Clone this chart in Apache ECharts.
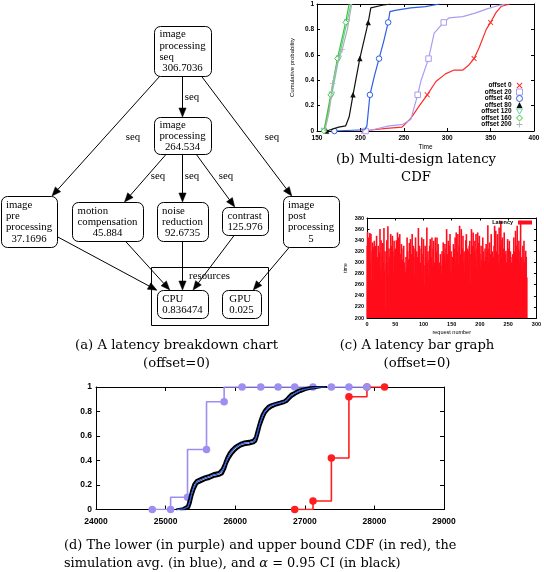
<!DOCTYPE html>
<html><head><meta charset="utf-8">
<script src="https://cdn.jsdelivr.net/npm/echarts@6/dist/echarts.min.js"></script>
<style>html,body{margin:0;padding:0;background:#fff}#c{width:544px;height:572px}</style>
</head><body><div id="c"></div>
<script>
// ---------- (a) latency breakdown diagram ----------
const nodeIds = ['seq','proc','pre','motion','noise','contrast','post','cpu','gpu'];
const nodeWords = [['image','processing','seq'],['image','processing'],['image','pre','processing'],['motion','compensation'],['noise','reduction'],['contrast'],['image','post','processing'],['CPU'],['GPU']];
const nodeLatency = ['306.7036','264.534','37.1696','45.884','92.6735','125.976','5','0.836474','0.025'];
const edgeFrom = ['seq','seq','seq','proc','proc','proc','pre','motion','noise','contrast','post'];
const edgeTo   = ['proc','pre','post','motion','noise','contrast','cpu','cpu','cpu','cpu','gpu'];
const edgeLabel = ['seq','seq','seq','seq','seq','seq','','','','',''];
const clusterLabel = 'resources';
// diagram layout (pixels)
const nodeCX = [182.5,182.5,29,107.5,182.5,245,311,182.5,241.5];
const nodeCY = [51,135.5,221.5,221.5,221.5,221,221.5,304,304];
const nodeW = [57,57,56,71,51,46,56,51,39];
const nodeH = [50,37,51,39,39,28,51,28,28];
const edgeLabelX = [192,133,272,158,192,226];
const edgeLabelY = [97,137,137,176,176,176];
const clusterBox = [151,267,268,325];

// ---------- (b) multi-design latency CDF ----------
const offsetNames = ['offset 0','offset 20','offset 40','offset 80','offset 120','offset 160','offset 200'];
const cdf0 = [[204,0],[215,0.01],[230,0.02],[248,0.03],[258,0.1],[268,0.2],[277,0.285],[287,0.39],[298,0.45],[308,0.48],[318,0.48],[325,0.52],[331,0.57],[337,0.66],[345,0.8],[350,0.855],[356,0.93],[362,0.98],[372,1]];
const cdf20 = [[206,0],[214,0.01],[233,0.04],[248,0.05],[258,0.09],[266,0.285],[270,0.4],[278.5,0.57],[285,0.77],[296,0.855],[302,0.89],[318,0.9],[333,0.93],[345,0.96],[360,0.99],[368,1]];
const cdf40 = [[170,0],[205,0.01],[207.5,0.04],[211,0.285],[216,0.43],[221.5,0.57],[227,0.71],[232,0.855],[234,0.94],[240,0.95],[258,0.97],[275,0.98],[291,1]];
const cdf80 = [[161,0],[175,0.03],[183,0.04],[187,0.11],[191.5,0.285],[199.3,0.57],[209,0.855],[212,0.97],[225,0.99],[235,1]];
const cdf120 = [[158,0],[163,0.15],[167,0.285],[175,0.57],[184.5,0.855],[189,1]];
const cdf160 = [[158,0],[165.8,0.285],[173.5,0.57],[183,0.855],[187,1]];
const cdf200 = [[159,0],[164,0.15],[168,0.375],[174,0.55],[179,0.64],[185,0.8],[190,1]];
const cdfMarked = [[0,6,12,15],[0,5,7,9],[0,3,5,7],[0,4,5,6],[0,2,3,4],[0,1,2,3],[2,4]];
const cdfTicksX = [150,400,50];

// ---------- (c) latency bar graph ----------
const latency = [
330,355,290,345,310,353,300,351,267,320,
336,300,328,339,285,330,262,348,310,295,
330,305,318,360,290,340,273,312,335,300,
362,285,320,215,297,340,300,365,280,325,
310,290,351,330,300,348,320,285,339,310,
325,297,340,300,354,280,345,320,351,295,
315,333,290,305,325,330,300,270,282,310,
290,345,320,295,306,335,285,342,300,315,
351,290,330,310,275,325,345,300,320,267,
310,362,290,330,273,300,325,345,280,315,
342,295,259,330,310,290,363,300,320,279,
305,330,342,280,310,345,295,325,339,256,
300,345,285,320,345,310,333,290,300,285,
315,295,279,320,305,336,290,315,333,300,
325,360,290,315,339,300,330,351,285,320,
276,310,300,333,290,325,345,300,354,229,
320,351,295,330,366,300,315,360,290,325,
348,300,320,282,310,340,351,295,325,321,
300,330,339,262,315,360,300,330,354,290,
320,339,310,351,290,325,354,300,335,348,
315,290,330,305,250,345,320,295,303,325,
310,333,290,320,367,300,325,336,285,315,
351,300,320,279,310,330,366,300,357,320,
290,351,315,300,363,285,330,375,310,340,
345,300,325,354,290,315,321,300,223,342,
310,325,339,295,320,273,300,310,315,290,
345,320,300,357,330,310,366,295,325,339,
300,320,375,310,290,285,330,305,339,300,
290,321,310,273];

// ---------- (d) bound CDFs ----------
const lowerX = [24808,25072,25315,25588,25841,26099,26367,26616,26855,27118,27382,27634,27893];
const lowerY = [0,0,0.1,0.49,0.88,1,1,1,1,1,1,1,1];
const upperX = [26855,27118,27382,27634,27893,28146];
const upperY = [0,0.07,0.42,0.92,1,1];
const simAvg = [[25160,0],[25260,0.005],[25320,0.02],[25350,0.07],[25375,0.13],[25410,0.19],[25445,0.225],[25500,0.24],[25560,0.255],[25620,0.265],[25683,0.28],[25760,0.29],[25810,0.31],[25845,0.35],[25876,0.4],[25910,0.44],[25947,0.47],[25990,0.5],[26019,0.51],[26070,0.53],[26114,0.54],[26200,0.545],[26258,0.555],[26290,0.57],[26306,0.6],[26330,0.65],[26354,0.7],[26390,0.76],[26426,0.8],[26470,0.83],[26521,0.85],[26580,0.86],[26641,0.87],[26700,0.88],[26737,0.89],[26770,0.91],[26808,0.93],[26860,0.95],[26928,0.97],[27000,0.98],[27072,0.99],[27150,0.995],[27216,1],[27300,1]];
const ciUpper = [[25150,0],[25250,0.01],[25310,0.03],[25340,0.09],[25365,0.15],[25400,0.21],[25440,0.24],[25500,0.255],[25560,0.27],[25620,0.28],[25683,0.295],[25760,0.305],[25805,0.33],[25840,0.375],[25870,0.42],[25905,0.46],[25945,0.49],[25990,0.515],[26030,0.53],[26080,0.545],[26130,0.555],[26200,0.56],[26258,0.57],[26285,0.59],[26300,0.625],[26325,0.675],[26350,0.725],[26385,0.78],[26420,0.815],[26470,0.845],[26521,0.86],[26580,0.87],[26641,0.88],[26700,0.89],[26735,0.905],[26765,0.925],[26800,0.945],[26855,0.96],[26920,0.98],[27000,0.99],[27070,0.997],[27150,1],[27300,1]];
const ciLower = [[25200,0],[25290,0.003],[25335,0.012],[25360,0.05],[25385,0.11],[25420,0.17],[25455,0.21],[25510,0.225],[25570,0.24],[25630,0.25],[25690,0.265],[25770,0.275],[25820,0.29],[25855,0.33],[25885,0.38],[25920,0.42],[25955,0.45],[26000,0.48],[26030,0.495],[26080,0.515],[26130,0.525],[26200,0.53],[26265,0.54],[26300,0.555],[26315,0.58],[26340,0.63],[26362,0.68],[26400,0.74],[26435,0.785],[26480,0.815],[26530,0.835],[26590,0.85],[26650,0.86],[26710,0.87],[26745,0.88],[26780,0.9],[26815,0.92],[26870,0.94],[26940,0.96],[27010,0.975],[27080,0.985],[27160,0.993],[27240,1],[27320,1]];

// ---------- captions ----------
const capA = ['(a) A latency breakdown chart','(offset=0)'];
const capB = ['(b) Multi-design latency','CDF'];
const capC = ['(c) A latency bar graph','(offset=0)'];
const capD = ['(d) The lower (in purple) and upper bound CDF (in red), the','simulation avg. (in blue), and {i|α} = 0.95 CI (in black)'];

// ================= build =================
const SERIF = 'Liberation Serif';
const CAPF = 'DejaVu Serif';
const SANS = 'Liberation Sans';

function gAxes(grid, xr, yr, fs, tick, xm, ym, xName, yName, xGap, yGap) {
  const common = (pos, r, showLab, m) => ({
    type:'value', gridIndex:grid, position:pos, min:r[0], max:r[1], interval:r[2],
    axisLine:{show:true, onZero:false, lineStyle:{color:'#000', width:1}},
    axisTick:{show:true, inside:true, length:tick, lineStyle:{color:'#000'}},
    splitLine:{show:false},
    axisLabel:{show:showLab, color:'#000', fontFamily:SANS, fontWeight:'bold', fontSize:fs, margin:m, formatter:v => String(v)}
  });
  const xb = common('bottom', xr, true, xm), xt = common('top', xr, false, 0);
  const yl = common('left', yr, true, ym), yrr = common('right', yr, false, 0);
  if (xName) Object.assign(xb, {name:xName, nameLocation:'middle', nameGap:xGap, nameTextStyle:{fontFamily:SANS, fontSize:fs, color:'#000'}});
  if (yName) Object.assign(yl, {name:yName, nameLocation:'middle', nameGap:yGap, nameRotate:90, nameTextStyle:{fontFamily:SANS, fontSize:fs-0.5, color:'#000'}});
  return {x:[xb, xt], y:[yl, yrr]};
}

const axB = gAxes(1, cdfTicksX, [0,1,0.2], 6.5, 3, 4, 3, 'Time', 'Cumulative probability', 13, 22);
const axC = gAxes(2, [0,300,50], [200,380,20], 5.5, 2.5, 3, 3, 'request number', 'time', 11, 19);
const axD = gAxes(3, [24000,29000,1000], [0,1,0.2], 8.5, 4, 8, 4, null, null);

const xAxis = [{type:'value', gridIndex:0, min:0, max:544, show:false}].concat(axB.x, axC.x, axD.x);
const yAxis = [{type:'value', gridIndex:0, min:0, max:572, inverse:true, show:false}].concat(axB.y, axC.y, axD.y);

const grid = [
  {left:0, top:0, width:544, height:572},
  {left:317, top:4, width:217, height:127},
  {left:367, top:218, width:171.5, height:100},
  {left:96, top:387, width:348, height:122.5}
];

// (a) diagram series
function idx(id){ return nodeIds.indexOf(id); }
const diagram = [
  { type:'custom', name:'cluster', xAxisIndex:0, yAxisIndex:0, silent:true, z:1,
    data:[[clusterBox[0], clusterBox[1], clusterBox[2], clusterBox[3]]],
    renderItem(params, api){
      const p0 = api.coord([api.value(0), api.value(1)]), p1 = api.coord([api.value(2), api.value(3)]);
      return {type:'group', children:[
        {type:'rect', shape:{x:p0[0]+0.5, y:p0[1]+0.5, width:p1[0]-p0[0], height:p1[1]-p0[1]}, style:{fill:'none', stroke:'#000', lineWidth:1}},
        {type:'text', x:(p0[0]+p1[0])/2, y:p0[1]+9, style:{text:clusterLabel, align:'center', verticalAlign:'middle', fontFamily:SERIF, fontSize:10.8, fill:'#000'}}
      ]};
    }
  },
  { type:'custom', name:'edges', xAxisIndex:0, yAxisIndex:0, silent:true, z:2,
    data: edgeFrom.map((f,i)=>[i]),
    renderItem(params, api){
      const i = params.dataIndex, a = idx(edgeFrom[i]), b = idx(edgeTo[i]);
      const p0 = api.coord([nodeCX[a], nodeCY[a]]), p1 = api.coord([nodeCX[b], nodeCY[b]]);
      const dx = p1[0]-p0[0], dy = p1[1]-p0[1];
      const ax = Math.abs(dx)||1e-9, ay = Math.abs(dy)||1e-9;
      const t0 = Math.min(nodeW[a]/2/ax, nodeH[a]/2/ay), t1 = Math.min(nodeW[b]/2/ax, nodeH[b]/2/ay);
      const s = [p0[0]+dx*t0, p0[1]+dy*t0], e = [p1[0]-dx*t1, p1[1]-dy*t1];
      const len = Math.hypot(e[0]-s[0], e[1]-s[1]), ux = (e[0]-s[0])/len, uy = (e[1]-s[1])/len;
      const AL = 9, AW = 3.6, base = [e[0]-ux*AL, e[1]-uy*AL];
      const ch = [
        {type:'line', shape:{x1:s[0], y1:s[1], x2:base[0], y2:base[1]}, style:{stroke:'#000', lineWidth:1}},
        {type:'polygon', shape:{points:[e, [base[0]-uy*AW, base[1]+ux*AW], [base[0]+uy*AW, base[1]-ux*AW]]}, style:{fill:'#000', stroke:'#000', lineWidth:0.5}}
      ];
      if (edgeLabel[i]) {
        const lp = api.coord([edgeLabelX[i], edgeLabelY[i]]);
        ch.push({type:'text', x:lp[0], y:lp[1], style:{text:edgeLabel[i], align:'center', verticalAlign:'middle', fontFamily:SERIF, fontSize:10.8, fill:'#000'}});
      }
      return {type:'group', children:ch};
    }
  },
  { type:'custom', name:'nodes', xAxisIndex:0, yAxisIndex:0, silent:true, z:3,
    data: nodeIds.map((id,i)=>[nodeCX[i], nodeCY[i]]),
    renderItem(params, api){
      const i = params.dataIndex, c = api.coord([api.value(0), api.value(1)]);
      const w = nodeW[i], h = nodeH[i];
      const txt = nodeWords[i].map(t=>'{l|'+t+'}').join('\n') + '\n{c|' + nodeLatency[i] + '}';
      const f = {fontFamily:SERIF, fontSize:10.8, lineHeight:11.3, fill:'#000'};
      return {type:'group', children:[
        {type:'rect', shape:{x:c[0]-w/2+0.5, y:c[1]-h/2+0.5, width:w, height:h, r:6}, style:{fill:'#fff', stroke:'#000', lineWidth:1}},
        {type:'text', x:c[0], y:c[1]+0.5, style:Object.assign({text:txt, align:'center', verticalAlign:'middle',
          rich:{l:Object.assign({align:'left'}, f), c:Object.assign({align:'center'}, f)}}, f)}
      ]};
    }
  }
];

// (b) CDF series
const X_PATH = 'path://M0,1.2L1.2,0L5,3.8L8.8,0L10,1.2L6.2,5L10,8.8L8.8,10L5,6.2L1.2,10L0,8.8L3.8,5Z';
const PLUS_PATH = 'path://M4.3,0H5.7V4.3H10V5.7H5.7V10H4.3V5.7H0V4.3H4.3Z';
const TRI_DOWN = 'path://M0,0L10,0L5,8.7Z';
const offColors = ['#ff2a2a','#a99cf2','#2f5de6','#111111','#66ccaa','#36c836','#b0b0b0'];
const offSymbols = [X_PATH, 'rect', 'circle', 'triangle', TRI_DOWN, 'diamond', PLUS_PATH];
const offHollow = [false, true, true, false, true, true, false];
const cdfData = [cdf0, cdf20, cdf40, cdf80, cdf120, cdf160, cdf200];
const markerStyle = i => offHollow[i] ? {color:'#fff', borderColor:offColors[i], borderWidth:1} : {color:offColors[i], borderWidth:0};
const cdfSeries = cdfData.map((d, i) => ({
  type:'line', name:offsetNames[i], xAxisIndex:1, yAxisIndex:1, data:d, z:5+i,
  showAllSymbol:true, symbolSize:[5.5,5.5],
  symbol:(v, p) => cdfMarked[i].indexOf(p.dataIndex) >= 0 ? offSymbols[i] : 'none',
  lineStyle:{color:offColors[i], width:1.2}, itemStyle:markerStyle(i)
}));

// (c) bar series
const barSeries = {type:'bar', name:'Latency', xAxisIndex:3, yAxisIndex:3, barWidth:1.6,
  data: latency.map((v,i)=>[i, v]), itemStyle:{color:'#ff0d1c'}, large:false};

// (d) series
const dSeries = [
  {type:'line', name:'upper bound', xAxisIndex:5, yAxisIndex:5, step:'end', data:upperX.map((x,i)=>[x, upperY[i]]),
   symbol:'circle', symbolSize:7.5, showAllSymbol:true, lineStyle:{color:'#ff1e1e', width:1.6}, itemStyle:{color:'#ff1e1e'}, z:5},
  {type:'line', name:'lower bound', xAxisIndex:5, yAxisIndex:5, step:'start', data:lowerX.map((x,i)=>[x, lowerY[i]]),
   symbol:'circle', symbolSize:7.5, showAllSymbol:true, lineStyle:{color:'#9d8ef2', width:1.6}, itemStyle:{color:'#9d8ef2'}, z:6},
  {type:'line', name:'CI upper', xAxisIndex:5, yAxisIndex:5, data:ciUpper, showSymbol:false, lineStyle:{color:'#000', width:2.1}, z:7},
  {type:'line', name:'CI lower', xAxisIndex:5, yAxisIndex:5, data:ciLower, showSymbol:false, lineStyle:{color:'#000', width:2.1}, z:7},
  {type:'line', name:'sim avg', xAxisIndex:5, yAxisIndex:5, data:simAvg, showSymbol:false, lineStyle:{color:'#2a5ae8', width:1.2}, z:8}
];

// captions
function cap(text, x, y, align, fs){
  return {type:'text', x:x, y:y, silent:true, style:{text:text, align:align, verticalAlign:'middle',
    fontFamily:CAPF, fontSize:fs, fill:'#000', rich:{i:{fontFamily:CAPF, fontStyle:'italic', fontSize:fs}}}};
}
const graphic = [
  cap(capA[0], 176.5, 346, 'center', 13.2), cap(capA[1], 176.5, 364, 'center', 13.2),
  cap(capB[0], 416, 160, 'center', 13.2), cap(capB[1], 416, 178, 'center', 13.2),
  cap(capC[0], 417, 346, 'center', 13.2), cap(capC[1], 417, 364, 'center', 13.2),
  cap(capD[0], 64, 546, 'left', 12.9), cap(capD[1], 64, 564, 'left', 12.9)
];

const legends = [
  {orient:'vertical', right:21, top:82, align:'right', itemWidth:6, itemHeight:6, itemGap:-0.5,
   textStyle:{fontFamily:SANS, fontWeight:'bold', fontSize:6.5, lineHeight:6, color:'#000'}, padding:0, selectedMode:false,
   data: offsetNames.map((n,i)=>({name:n, icon:offSymbols[i], itemStyle:markerStyle(i)}))},
  {orient:'vertical', right:12, top:219.5, align:'right', itemWidth:14, itemHeight:4, padding:0, selectedMode:false,
   textStyle:{fontFamily:SANS, fontWeight:'bold', fontSize:5.5, color:'#000'},
   data:[{name:'Latency', icon:'rect', itemStyle:{color:'#ff0d1c'}}]}
];

const chart = echarts.init(document.getElementById('c'), null, {renderer:'canvas'});
chart.setOption({
  animation:false, backgroundColor:'#fff',
  grid, xAxis, yAxis, legend:legends, graphic,
  series: diagram.concat(cdfSeries, [barSeries], dSeries)
});
</script>
</body></html>
